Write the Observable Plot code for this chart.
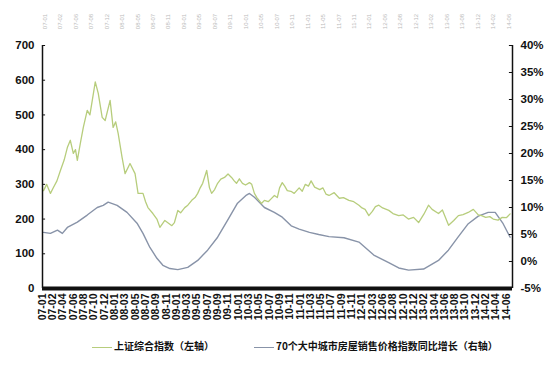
<!DOCTYPE html>
<html>
<head>
<meta charset="utf-8">
<script src="https://cdn.jsdelivr.net/npm/d3@7"></script>
<script src="https://cdn.jsdelivr.net/npm/@observablehq/plot@0.6"></script>
<style>
  body { margin: 0; background: #fff; font-family: "Liberation Sans", "Noto Sans CJK SC", sans-serif; }
  #wrap { position: relative; width: 550px; height: 367px; }
  .leg { position: absolute; top: 338px; font-size: 10px; font-weight: bold; color: #111; font-family: "Noto Sans CJK SC", sans-serif; white-space: nowrap; }
  .sw { display: inline-block; width: 20px; height: 0; border-top: 1.5px solid; vertical-align: middle; margin-right: 2px; }
</style>
</head>
<body>
<div id="wrap"></div>
<script>
const labels = ["07-01","07-02","07-04","07-06","07-08","07-10","07-12",
  "08-01","08-03","08-05","08-07","08-09","08-11",
  "09-01","09-03","09-05","09-07","09-09","09-11",
  "10-01","10-03","10-05","10-07","10-09","10-11",
  "11-01","11-03","11-05","11-07","11-09","11-11",
  "12-01","12-03","12-06","12-08","12-10","12-12",
  "13-02","13-04","13-06","13-08","13-10","13-12",
  "14-02","14-04","14-06"];

// 上证综合指数 (left axis), positions in label-index units
const shPos = [0.1,0.4,0.77,1.06,1.4,1.74,2.1,2.41,2.70,2.99,3.2,3.38,3.67,3.96,4.34,4.6,4.83,5.12,5.41,5.79,6.08,6.56,6.85,7.1,7.34,7.72,8.01,8.49,8.98,9.27,9.75,10.0,10.23,10.71,11.1,11.39,11.87,12.55,12.8,13.13,13.4,13.80,14.1,14.48,14.8,15.06,15.3,15.54,15.93,16.2,16.41,16.7,16.99,17.3,17.66,18.0,18.34,18.6,18.82,19.1,19.40,19.7,20.08,20.3,20.56,20.8,21.24,21.53,21.9,22.2,22.5,22.78,23.0,23.26,23.5,23.75,24.1,24.42,24.9,25.2,25.5,25.8,26.06,26.4,26.9,27.2,27.5,27.8,28.3,28.8,29.2,29.73,30.2,30.7,31.0,31.3,31.66,32.0,32.3,32.63,33.0,33.6,34.0,34.56,35.0,35.5,36.0,36.49,37.0,37.45,37.8,38.42,38.8,39.4,39.9,40.35,40.8,41.3,41.8,42.28,42.6,43.0,43.4,43.73,44.2,44.6,45.0,45.37];
const shVal = [282,300,274,291,310,340,370,406,427,389,400,369,418,464,513,500,542,595,562,493,484,542,464,480,447,378,331,360,331,274,274,250,233,216,200,176,196,181,190,225,218,233,240,254,262,274,290,303,340,290,274,285,303,315,320,330,320,310,303,316,303,298,305,300,274,262,245,254,250,259,268,262,290,305,295,282,280,274,290,280,300,295,310,292,285,290,272,268,276,260,262,254,250,240,232,228,210,222,236,240,232,225,216,210,212,200,205,190,214,240,228,216,226,182,196,210,213,219,228,212,210,205,207,200,197,205,204,215];

// 70个大中城市房屋销售价格指数同比增长 (right axis, %)
const hpPos = [0.1,0.77,1.45,1.93,2.41,3.38,4.34,5.31,5.89,6.37,7.24,8.2,9.17,9.75,10.42,11.1,11.68,12.36,13.13,14.09,15.06,16.02,16.99,17.95,18.92,19.79,20.08,20.56,21.53,22.49,23.26,24.13,24.9,25.9,26.8,27.8,29.25,30.7,32.14,33.59,34.56,35.52,36.97,38.42,39.38,40.35,41.31,42.28,43.24,43.92,44.69,45.37];
const hpVal = [5.4,5.2,5.8,5.2,6.3,7.3,8.6,10.0,10.4,11.0,10.4,9.1,7.1,5.2,2.6,0.6,-0.7,-1.3,-1.5,-1.1,0.2,2.1,4.5,7.6,10.8,12.3,12.6,11.9,10.0,9.1,8.2,6.6,6.0,5.4,5.0,4.6,4.4,3.6,1.2,-0.2,-1.2,-1.6,-1.4,0.2,2.1,4.6,7.0,8.4,9.1,9.1,7.0,4.5];

const leftTicks = [0,100,200,300,400,500,600,700];
const rightTicks = [-5,0,5,10,15,20,25,30,35,40];

const toLeft = p => (p + 5) * 700 / 45;
const xMax = 45.6;

const sh = shPos.map((x, i) => ({x, v: shVal[i]}));
const hp = hpPos.map((x, i) => ({x, v: toLeft(hpVal[i])}));

const chart = Plot.plot({
  width: 550,
  height: 335,
  marginLeft: 42,
  marginRight: 38,
  marginTop: 45,
  marginBottom: 47,
  style: {fontFamily: "Liberation Sans, sans-serif", background: "#fff"},
  x: {domain: [0, xMax]},
  y: {domain: [0, 700]},
  marks: [
    Plot.line(hp, {x: "x", y: "v", stroke: "#8893a8", strokeWidth: 1.4}),
    Plot.line(sh, {x: "x", y: "v", stroke: "#b7cd7c", strokeWidth: 1.3}),
    Plot.ruleX([0, xMax], {stroke: "#111", strokeWidth: 1.5}),
    Plot.ruleY(leftTicks, {x1: 0, x2: 0.3, stroke: "#111"}),
    Plot.ruleY(rightTicks.map(toLeft), {x1: xMax - 0.3, x2: xMax, stroke: "#111"}),
    Plot.ruleY([0], {stroke: "#111", strokeWidth: 4}),
    Plot.axisY(leftTicks, {anchor: "left", tickSize: 0, tickPadding: 8, fontWeight: "bold", fontSize: 11.5, fill: "#111", label: null}),
    Plot.axisY(rightTicks.map(toLeft), {anchor: "right", tickSize: 0, tickPadding: 8, fontWeight: "bold", fontSize: 11.5, fill: "#111", label: null,
      tickFormat: v => Math.round(v * 45 / 700 - 5) + "%"}),
    Plot.axisX(d3.range(labels.length), {tickFormat: i => labels[i], tickRotate: -90, tickSize: 0, tickPadding: 5, fontWeight: "bold", fontSize: 10.5, fill: "#111", label: null}),
    Plot.text(d3.range(31), {x: d => d * 1.5, text: d => labels[Math.floor(d * 1.5)], frameAnchor: "top", dy: -24, rotate: -90, fontSize: 6, fill: "#bbb"})
  ]
});

const wrap = document.getElementById("wrap");
wrap.appendChild(chart);
const l1 = document.createElement("div");
l1.className = "leg"; l1.style.left = "92px";
l1.innerHTML = '<span class="sw" style="border-color:#b7cd7c"></span>上证综合指数（左轴）';
const l2 = document.createElement("div");
l2.className = "leg"; l2.style.left = "254px";
l2.innerHTML = '<span class="sw" style="border-color:#8893a8"></span>70个大中城市房屋销售价格指数同比增长（右轴）';
wrap.appendChild(l1); wrap.appendChild(l2);
</script>
</body>
</html>
